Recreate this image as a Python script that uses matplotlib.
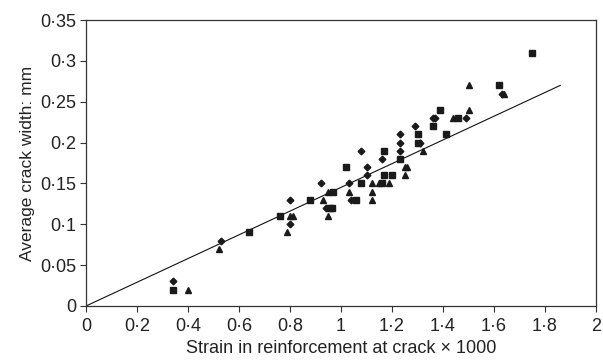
import matplotlib
matplotlib.use("Agg")
import matplotlib.pyplot as plt
from matplotlib.ticker import FuncFormatter

plt.rcParams['font.family'] = ['Liberation Sans', 'DejaVu Sans']

diamond_x = [0.34, 0.53, 0.80, 0.80, 0.92, 0.94, 1.03, 1.04, 1.08, 1.10, 1.10, 1.16,
             1.23, 1.23, 1.23, 1.29, 1.31, 1.36, 1.37, 1.49, 1.63]
diamond_y = [0.03, 0.08, 0.13, 0.10, 0.15, 0.12, 0.15, 0.13, 0.19, 0.17, 0.16, 0.18,
             0.21, 0.20, 0.19, 0.22, 0.20, 0.23, 0.23, 0.23, 0.26]

square_x = [0.34, 0.64, 0.76, 0.88, 0.97, 0.955, 0.965, 1.02, 1.06, 1.08, 1.16, 1.17,
            1.17, 1.20, 1.23, 1.30, 1.30, 1.36, 1.39, 1.41, 1.46, 1.62, 1.75]
square_y = [0.02, 0.09, 0.11, 0.13, 0.14, 0.12, 0.12, 0.17, 0.13, 0.15, 0.15, 0.19,
            0.16, 0.16, 0.18, 0.21, 0.20, 0.22, 0.24, 0.21, 0.23, 0.27, 0.31]

triangle_x = [0.40, 0.52, 0.79, 0.80, 0.81, 0.93, 0.95, 0.95, 1.03, 1.12, 1.12, 1.12,
              1.15, 1.19, 1.25, 1.26, 1.25, 1.32, 1.44, 1.50, 1.50, 1.64]
triangle_y = [0.02, 0.07, 0.09, 0.11, 0.11, 0.13, 0.14, 0.11, 0.14, 0.15, 0.14, 0.13,
              0.15, 0.15, 0.17, 0.17, 0.16, 0.19, 0.23, 0.27, 0.24, 0.26]

line_x = [0.0, 1.86]
line_y = [0.0, 0.27]

x_ticks = [0, 0.2, 0.4, 0.6, 0.8, 1.0, 1.2, 1.4, 1.6, 1.8, 2.0]
y_ticks = [0, 0.05, 0.1, 0.15, 0.2, 0.25, 0.3, 0.35]

fig = plt.figure(figsize=(6.03, 3.61), dpi=100)
ax = fig.add_axes([86/603, 55/361, 510/603, 286/361])

mc = '#1a1a1a'
ax.plot(line_x, line_y, color='#111111', lw=0.8)
ax.plot(diamond_x, diamond_y, 'D', ms=3.4, color=mc, mec=mc, ls='none')
ax.plot(square_x, square_y, 's', ms=4.3, color=mc, mec=mc, ls='none')
ax.plot(triangle_x, triangle_y, '^', ms=4.6, color=mc, mec=mc, ls='none')

ax.set_xlim(0, 2)
ax.set_ylim(0, 0.35)
ax.set_xticks(x_ticks)
ax.set_yticks(y_ticks)

def fmt(v, pos):
    s = ('%.2f' % v).rstrip('0').rstrip('.')
    return s.replace('.', '\u00b7')

ax.xaxis.set_major_formatter(FuncFormatter(fmt))
ax.yaxis.set_major_formatter(FuncFormatter(fmt))
ax.tick_params(direction='out', length=4, width=0.8, color='#333333', labelsize=13,
               labelcolor='#222222', pad=3)
ax.tick_params(axis='x', pad=4.5)
for s in ax.spines.values():
    s.set_color('#333333')
    s.set_linewidth(0.9)

ax.set_xlabel('Strain in reinforcement at crack \u00d7 1000', fontsize=13, labelpad=3.5,
              color='#222222')
ax.set_ylabel('Average crack width: mm', fontsize=12.5, labelpad=4, color='#222222')

fig.savefig('out.png', dpi=100)
